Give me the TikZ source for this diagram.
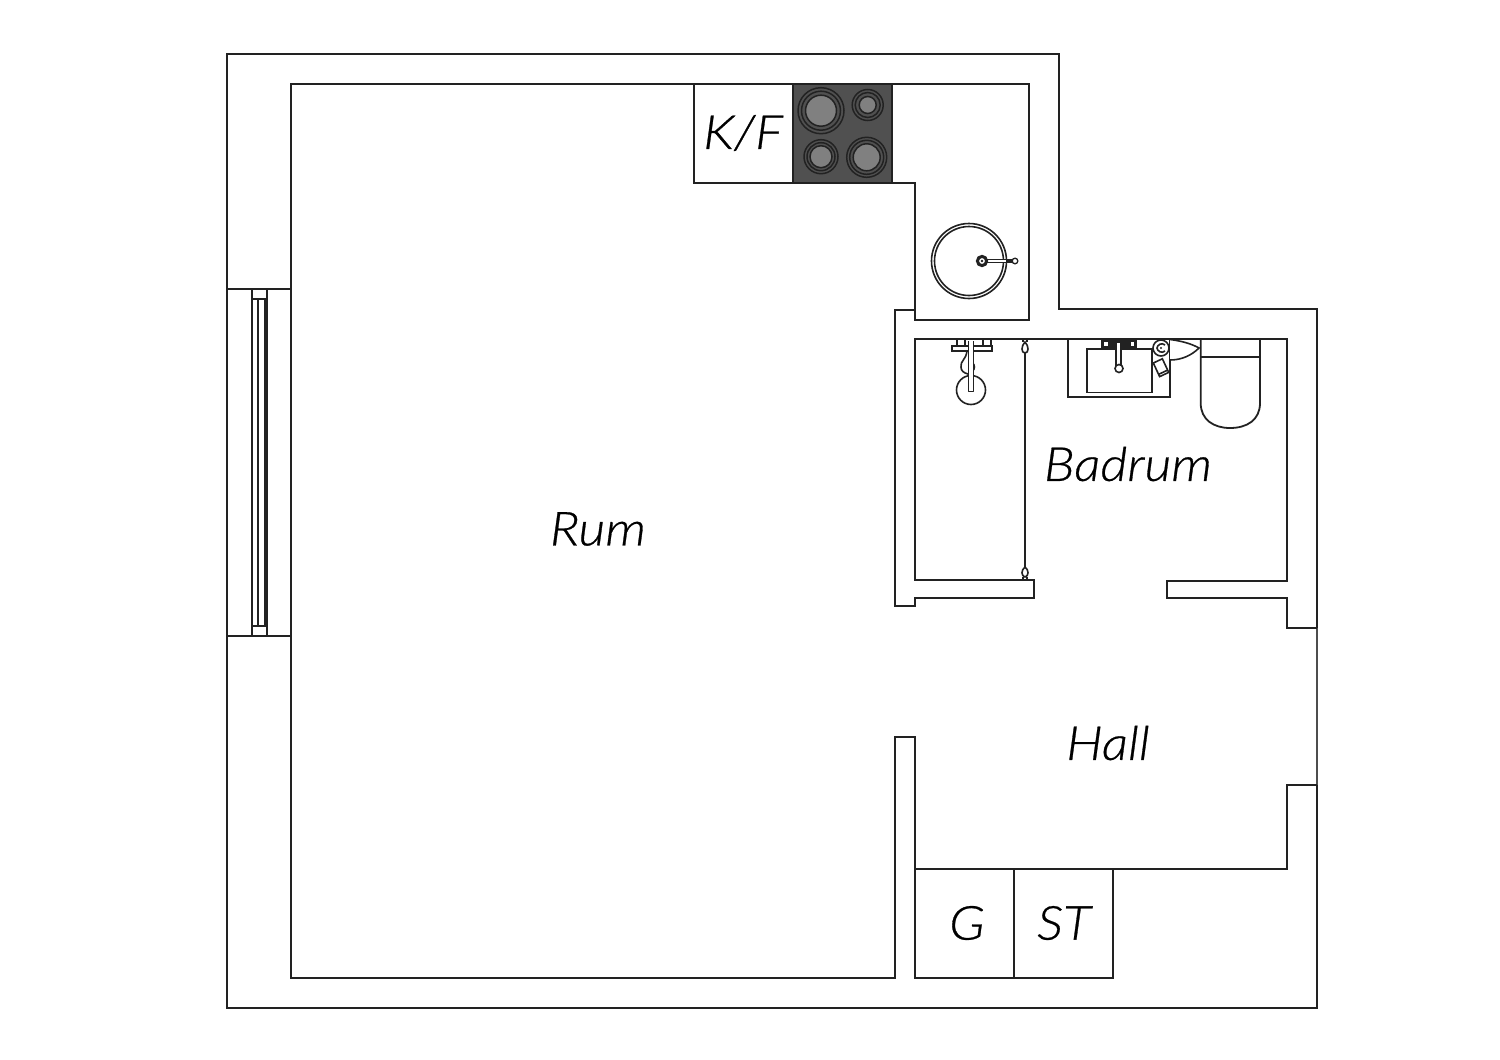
\documentclass[tikz,border=0pt]{standalone}
\usepackage{fontspec}
\setmainfont{Lato}[ItalicFont={Lato Light Italic},ItalicFeatures={FakeStretch=1.11,FakeBold=0.6}]
\definecolor{ink}{HTML}{222222}
\definecolor{hob}{HTML}{505050}
\definecolor{ringfill}{HTML}{808080}
\tikzset{
  wall/.style={draw=ink,line width=1.8pt,line join=miter},
  thin fix/.style={draw=ink,line width=1.6pt},
  roomlabel/.style={font=\fontsize{47}{47}\selectfont\itshape,text=black,inner sep=0pt,anchor=center}
}
\newcommand{\plate}[4]{%
  \draw[thin fix,fill=#4,line width=1.5pt] (#1,#2) circle (#3);
}
\begin{document}
\begin{tikzpicture}[x=1pt,y=-1pt]
\useasboundingbox (0,0) rectangle (1500,1060);
\fill[white] (0,0) rectangle (1500,1060);
% outer outline
\draw[wall] (1317,785) -- (1317,1008) -- (227,1008) -- (227,54) -- (1059,54) -- (1059,309) -- (1317,309) -- (1317,628);
\draw[wall,draw=ink!80!white] (1317,628) -- (1317,785);
% room / kitchen outline
\draw[wall] (694,84) -- (291,84) -- (291,978) -- (895,978) -- (895,737) -- (915,737) -- (915,978) -- (1113,978) -- (1113,869);
\draw[wall] (694,84) -- (1029,84) -- (1029,320) -- (915,320) -- (915,183) -- (694,183) -- cycle;
\draw[wall] (915,310) -- (895,310) -- (895,606) -- (915,606) -- (915,598) -- (1034,598) -- (1034,580) -- (915,580) -- (915,339) -- (1287,339) -- (1287,581) -- (1167,581) -- (1167,598) -- (1287,598) -- (1287,628) -- (1317,628);
\draw[wall] (1317,785) -- (1287,785) -- (1287,869) -- (915,869);
\draw[wall] (1014,869) -- (1014,978);
% window
\draw[wall] (227,289) -- (291,289);
\draw[wall] (227,636) -- (291,636);
\draw[wall] (252,289) -- (252,636);
\draw[wall] (267,289) -- (267,636);
\draw[wall] (252,299) -- (267,299);
\draw[wall] (252,626) -- (267,626);
\draw[wall] (258,299) -- (258,626);
\draw[wall] (265,299) -- (265,626);
% hob
\draw[wall,fill=hob] (793,84) rectangle (892,183);
\foreach \cx/\cy/\ra/\rb/\rc in {821/110.7/23/19.5/15.5, 867.7/105/15.5/12.5/8.5, 821/156.7/17/14/11, 866.7/157.3/20/17/13.5}{
  \plate{\cx}{\cy}{\ra}{hob}
  \plate{\cx}{\cy}{\rb}{hob}
  \plate{\cx}{\cy}{\rc}{ringfill}
}
% kitchen sink
\draw[thin fix] (969,261) circle (37.5);
\draw[thin fix] (969,261) circle (34.5);
\draw[draw=ink,line width=1.3pt,fill=white] (982,259.3) rectangle (1013,262.7);
\fill[ink] (1006,259) rectangle (1013,263);
\draw[draw=ink,line width=1.3pt,fill=white] (1015,261) circle (2.8);
\draw[draw=ink,line width=3pt,fill=white] (982,261) circle (4.6);
\fill[ink] (982,261) circle (1.4);
% shower
\draw[thin fix] (971,390) circle (14.5);
\draw[thin fix] (967,351) .. controls (966,360) and (960,361) .. (961,367) .. controls (961,371) and (964,373) .. (968,374);
\fill[ink] (973,362) .. controls (976,365) and (976,369) .. (973,372) -- cycle;
\draw[thin fix,fill=white] (957,339.5) rectangle (965,346);
\draw[thin fix,fill=white] (983,339.5) rectangle (991,346);
\draw[thin fix,fill=white] (952,346) rectangle (992,351);
\draw[thin fix,fill=white,line join=round] (968.5,341) -- (968.5,391.5) -- (973.5,391.5) -- (973.5,341);
% shower glass
\draw[wall] (1025,353) -- (1025,567);
\draw[thin fix,fill=white] (1025,342) .. controls (1021,346) and (1021,353) .. (1025,353) .. controls (1029,353) and (1029,346) .. (1025,342) -- cycle;
\draw[thin fix,fill=white] (1025,567) .. controls (1021,570) and (1021,576) .. (1025,577) .. controls (1029,576) and (1029,570) .. (1025,567) -- cycle;
\draw[thin fix] (1023,339) -- (1023,342);
\draw[thin fix] (1027,339) -- (1027,342);
\draw[thin fix] (1023,577) -- (1023,580);
\draw[thin fix] (1027,577) -- (1027,580);
% washbasin
\draw[wall] (1068,339) -- (1068,397) -- (1170,397) -- (1170,339);
\draw[wall] (1087,349) rectangle (1152,392.5);
\fill[ink] (1101,339.5) rectangle (1137,349);
\fill[white] (1104,342) rectangle (1108,346);
\fill[white] (1131,342) rectangle (1134,346);
\draw[thin fix,fill=white] (1116,342) rectangle (1121,368);
\draw[thin fix,fill=white] (1119,368.5) circle (4);
% leaf, roll, bottle
\draw[thin fix,fill=white] (1170,339.5) .. controls (1182,341) and (1192,344) .. (1199,348) .. controls (1192,355) and (1182,360) .. (1170,360);
\draw[thin fix,fill=white] (1161,348) circle (8);
\draw[thin fix] (1165,345) .. controls (1162,342) and (1157,345) .. (1157,348) .. controls (1157,351) and (1162,354) .. (1165,351);
\fill[ink] (1161,348) circle (1.2);
\begin{scope}[shift={(1161,367.7)},rotate=25]
\draw[thin fix,fill=white] (-5,-7.5) rectangle (5,7.5);
\draw[thin fix] (-5,5) -- (5,5);
\end{scope}
% toilet
\draw[wall] (1200.7,339) -- (1200.7,403) .. controls (1200.7,420) and (1214,428) .. (1230,428) .. controls (1247,428) and (1260,420) .. (1260,403) -- (1260,339);
\draw[wall] (1200.7,356.7) -- (1260,356.7);
% labels
\node[roomlabel] (kf) at (743,133) {K/F};
\node[roomlabel] (badrum) at (1128,464) {Badrum};
\node[roomlabel] (rum) at (598,529) {Rum};
\node[roomlabel] (hall) at (1108,743) {Hall};
\node[roomlabel] (g) at (967,923) {G};
\node[roomlabel] (st) at (1064,923) {ST};
\end{tikzpicture}
\end{document}
